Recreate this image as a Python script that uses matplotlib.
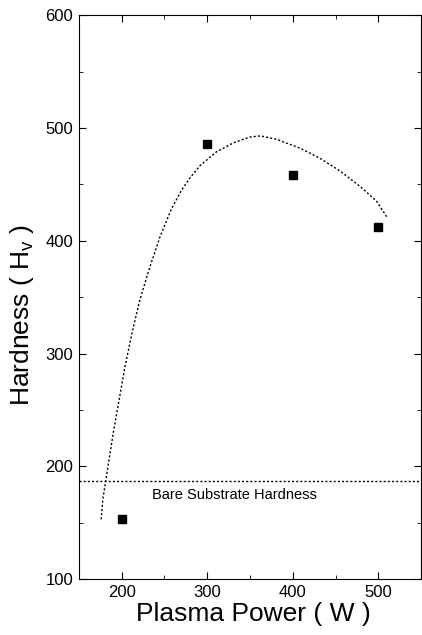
import matplotlib
matplotlib.use("Agg")
import matplotlib.pyplot as plt
from matplotlib.ticker import MultipleLocator

plt.rcParams['font.family'] = ['Liberation Sans', 'DejaVu Sans']

# measured hardness
power = [200, 300, 400, 500]
hardness = [153, 486, 458, 412]

# fitted trend line
fit_power = [176, 178, 184, 190, 197, 204, 212, 221, 233, 245, 258, 270,
             280, 292, 311, 331, 350, 362, 381, 409, 432, 455, 479, 498, 510]
fit_hardness = [153, 171, 200, 229, 259, 289, 318, 347, 377, 404, 428, 445,
                456, 467, 479, 487, 492, 493, 490, 482, 473, 462, 448, 435, 421]

bare_hardness = 187

fig = plt.figure(figsize=(4.22, 6.35), dpi=100)
ax = fig.add_axes([0.187, 0.088, 0.811, 0.888])

ax.plot(fit_power, fit_hardness, color='black', lw=1.0, ls=(0, (1.5, 1.5)))
ax.axhline(bare_hardness, color='black', lw=1.0, ls=(0, (1.5, 1.5)))
ax.plot(power, hardness, 's', color='black', ms=6)
ax.text(235, 175, 'Bare Substrate Hardness', fontsize=10.5, va='center', ha='left')

ax.set_xlim(150, 550)
ax.set_ylim(100, 600)
ax.xaxis.set_major_locator(MultipleLocator(100))
ax.xaxis.set_minor_locator(MultipleLocator(50))
ax.yaxis.set_major_locator(MultipleLocator(100))
ax.yaxis.set_minor_locator(MultipleLocator(50))
ax.tick_params(which='both', direction='in', top=True, right=True, labelsize=12)
ax.tick_params(which='major', length=5, pad=4)
ax.tick_params(which='minor', length=3)
ax.set_xticks([200, 300, 400, 500])
ax.set_xlabel('Plasma Power ( W )', fontsize=19)
ax.set_ylabel('Hardness ( H$_\\mathregular{v}$ )', fontsize=19)
ax.xaxis.set_label_coords(0.509, -0.041, transform=ax.transAxes)
ax.xaxis.label.set_va('top')
ax.yaxis.set_label_coords(-0.125, 0.468)

fig.savefig('out.png', dpi=100)
